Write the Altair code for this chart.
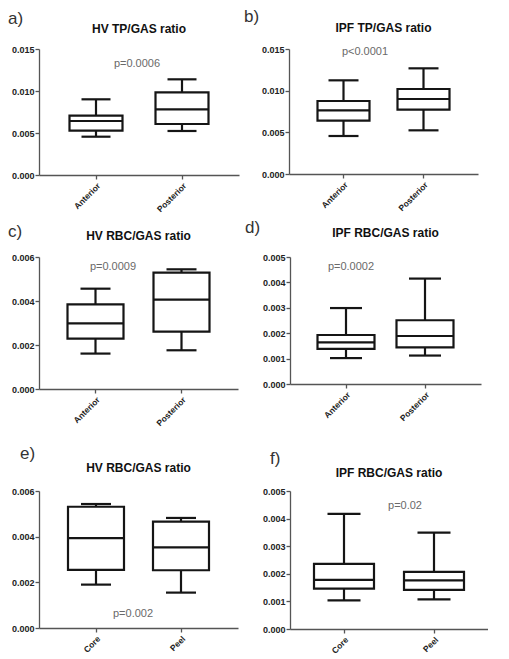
import altair as alt
import pandas as pd

FONT = "Liberation Sans"
LW = 2.2
INK = "#151515"

# ---- data ----
a_title = "HV TP/GAS ratio"
a_cats = ["Anterior", "Posterior"]
a_min = [0.00456, 0.00524]
a_q1 = [0.00528, 0.00607]
a_med = [0.00643, 0.00782]
a_q3 = [0.00706, 0.00984]
a_max = [0.00901, 0.01139]
a_ticks = [0.0, 0.005, 0.010, 0.015]
a_p = "p=0.0006"

b_title = "IPF TP/GAS ratio"
b_cats = ["Anterior", "Posterior"]
b_min = [0.00456, 0.00524]
b_q1 = [0.00640, 0.00772]
b_med = [0.00764, 0.00900]
b_q3 = [0.00876, 0.01020]
b_max = [0.01124, 0.01268]
b_ticks = [0.0, 0.005, 0.010, 0.015]
b_p = "p<0.0001"

c_title = "HV RBC/GAS ratio"
c_cats = ["Anterior", "Posterior"]
c_min = [0.00161, 0.00176]
c_q1 = [0.00229, 0.00261]
c_med = [0.00298, 0.00406]
c_q3 = [0.00385, 0.00529]
c_max = [0.00456, 0.00544]
c_ticks = [0.0, 0.002, 0.004, 0.006]
c_p = "p=0.0009"

d_title = "IPF RBC/GAS ratio"
d_cats = ["Anterior", "Posterior"]
d_min = [0.00102, 0.00112]
d_q1 = [0.00138, 0.00144]
d_med = [0.00164, 0.00189]
d_q3 = [0.00193, 0.00251]
d_max = [0.00299, 0.00415]
d_ticks = [0.0, 0.001, 0.002, 0.003, 0.004, 0.005]
d_p = "p=0.0002"

e_title = "HV RBC/GAS ratio"
e_cats = ["Core", "Peel"]
e_min = [0.00190, 0.00155]
e_q1 = [0.00255, 0.00253]
e_med = [0.00394, 0.00353]
e_q3 = [0.00531, 0.00466]
e_max = [0.00543, 0.00482]
e_ticks = [0.0, 0.002, 0.004, 0.006]
e_p = "p=0.002"

f_title = "IPF RBC/GAS ratio"
f_cats = ["Core", "Peel"]
f_min = [0.00104, 0.00107]
f_q1 = [0.00146, 0.00142]
f_med = [0.00178, 0.00176]
f_q3 = [0.00236, 0.00207]
f_max = [0.00417, 0.00349]
f_ticks = [0.0, 0.001, 0.002, 0.003, 0.004, 0.005]
f_p = "p=0.02"


def panel(letter, title, cats, lo, q1, med, q3, hi, ticks, ptext,
          W, H, step, box, cap, lxy, pxy, ty):
    df = pd.DataFrame({"cat": cats, "lo": lo, "q1": q1, "med": med,
                       "q3": q3, "hi": hi})
    pi = 0.4
    po = (W / step - 2 + pi) / 2
    xenc = alt.X("cat:N", sort=cats, title=None,
                 scale=alt.Scale(paddingInner=pi, paddingOuter=po),
                 axis=alt.Axis(labelAngle=-45, labelFontWeight="bold",
                               labelFontSize=8.5, labelColor="#222",
                               labelFont=FONT, domainColor="#555",
                               domainWidth=1.3, tickColor="#555",
                               tickWidth=1.3, tickSize=4, labelPadding=2))
    ys = alt.Scale(domain=[0, ticks[-1]], nice=False, zero=True)
    yax = alt.Axis(values=ticks, format=".3f", labelFontWeight="bold",
                   labelFontSize=9, labelColor="#222", labelFont=FONT,
                   domainColor="#555", domainWidth=1.3, tickColor="#555",
                   tickWidth=1.3, tickSize=4, labelPadding=1, grid=False,
                   minExtent=31)

    def Y(f):
        return alt.Y(f + ":Q", scale=ys, axis=yax, title=None)

    base = alt.Chart(df).encode(x=xenc)
    whisk = base.mark_rule(color=INK, strokeWidth=LW).encode(
        y=Y("lo"), y2="hi:Q")
    boxm = base.mark_bar(size=box, fill="white", stroke=INK,
                         strokeWidth=LW).encode(y=Y("q1"), y2="q3:Q")
    medm = base.mark_tick(size=box, thickness=LW, color=INK,
                          opacity=1).encode(y=Y("med"))
    locap = base.mark_tick(size=cap, thickness=LW, color=INK,
                           opacity=1).encode(y=Y("lo"))
    hicap = base.mark_tick(size=cap, thickness=LW, color=INK,
                           opacity=1).encode(y=Y("hi"))

    let = alt.Chart(pd.DataFrame({"t": [letter]})).mark_text(
        align="left", baseline="middle", fontSize=17, color="#333",
        font=FONT).encode(text="t:N", x=alt.value(lxy[0]),
                          y=alt.value(lxy[1]))
    tit = alt.Chart(pd.DataFrame({"t": [title]})).mark_text(
        align="center", baseline="middle", fontSize=12, fontWeight="bold",
        color="#111", font=FONT).encode(text="t:N", x=alt.value(W / 2),
                                        y=alt.value(ty))
    pv = alt.Chart(pd.DataFrame({"t": [ptext]})).mark_text(
        align="center", baseline="middle", fontSize=11, color="#6a6a6a",
        font=FONT).encode(text="t:N", x=alt.value(pxy[0]),
                          y=alt.value(pxy[1]))
    return alt.layer(whisk, boxm, medm, locap, hicap, let, tit, pv).properties(
        width=W, height=H)


pa = panel("a)", a_title, a_cats, a_min, a_q1, a_med, a_q3, a_max, a_ticks,
           a_p, 200, 126, 86, 53, 29, (-31, -30), (98, 15), -20)
pb = panel("b)", b_title, b_cats, b_min, b_q1, b_med, b_q3, b_max, b_ticks,
           b_p, 189, 125, 80, 52, 30, (-45, -32), (76, 3), -21)
pc = panel("c)", c_title, c_cats, c_min, c_q1, c_med, c_q3, c_max, c_ticks,
           c_p, 199, 132, 86, 56, 30, (-31, -25), (74, 10), -21)
pd_ = panel("d)", d_title, d_cats, d_min, d_q1, d_med, d_q3, d_max, d_ticks,
            d_p, 191, 127, 79, 57, 32, (-45, -29), (61, 10), -24)
pe = panel("e)", e_title, e_cats, e_min, e_q1, e_med, e_q3, e_max, e_ticks,
           e_p, 199, 137, 85, 56, 30, (-19, -37), (94, 123), -23)
pf = panel("f)", f_title, f_cats, f_min, f_q1, f_med, f_q3, f_max, f_ticks,
           f_p, 198, 138, 90, 60, 33, (-20, -32), (115, 15), -18)

row1 = alt.hconcat(pa, pb, spacing=5)
row2 = alt.hconcat(pc, pd_, spacing=7)
row3 = alt.hconcat(pe, pf, spacing=21)

chart = alt.vconcat(alt.vconcat(row1, row2, spacing=5), row3,
                    spacing=17).properties(padding=0, background="white")
chart = chart.configure(font=FONT).configure_view(stroke=None, strokeWidth=0)

chart.save("out.html", embed_options={"renderer": "svg", "actions": False})
